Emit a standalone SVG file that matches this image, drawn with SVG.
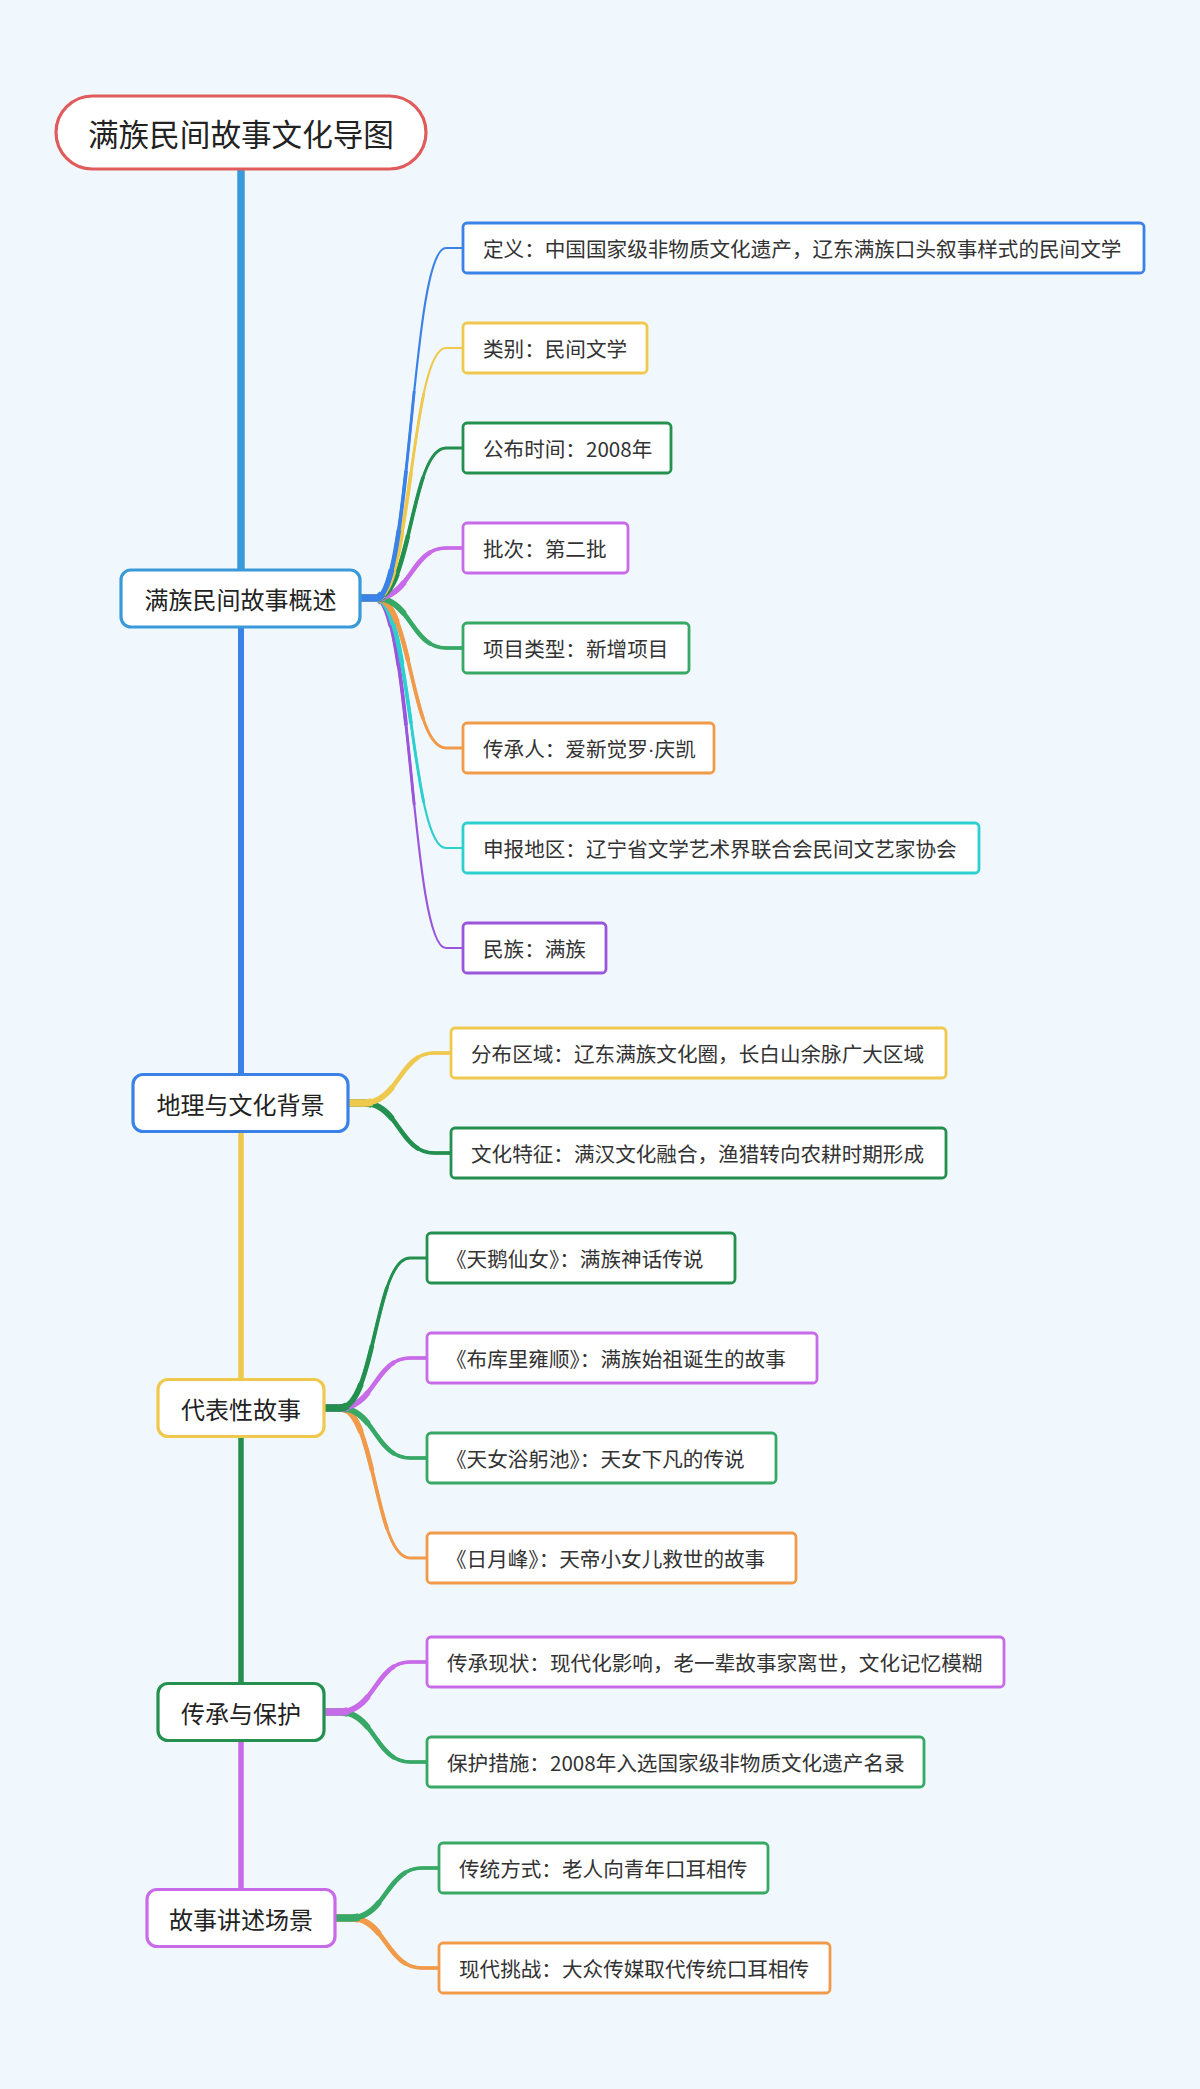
<svg xmlns="http://www.w3.org/2000/svg" xmlns:xlink="http://www.w3.org/1999/xlink" width="1200" height="2089" viewBox="0 0 1200 2089">
<style>
text{font-family:"Noto Sans CJK SC","Noto Sans",sans-serif;dominant-baseline:central}
.root rect{fill:#fff;stroke:#e05c5c;stroke-width:3.2}
.root text{font-size:30.6px;fill:#222;text-anchor:middle}
.topic rect{fill:#fff;stroke-width:3.2}
.topic text{font-size:24px;fill:#222;text-anchor:middle}
.leaf rect{fill:#fff;stroke-width:2.8}
.leaf text{font-size:20.6px;fill:#333}
#connectors{fill:none}
.trunk{stroke-linecap:butt}
.a{stroke-width:2.2;stroke-linecap:round}
.b{stroke-width:2.9;stroke-dasharray:230 3000}
.c{stroke-width:3.7;stroke-dasharray:150 3000}
.d{stroke-width:4.6;stroke-dasharray:90 3000}
.e{stroke-width:5.8;stroke-dasharray:50 3000}
.f{stroke-width:7.6;stroke-dasharray:24 3000}
.blue{stroke:#3b82e6}.yellow{stroke:#efc84e}.dgreen{stroke:#24904f}.lpurple{stroke:#c86be8}
.mgreen{stroke:#37a865}.orange{stroke:#f09a4a}.cyan{stroke:#2ecfcf}.dpurple{stroke:#9a55dc}.sky{stroke:#3a9ad9}
</style>
<defs>
<path id="p1a" d="M360 598 L376 598 C411 598 411 248 446 248 L463 248"/>
<path id="p1b" d="M360 598 L376 598 C411 598 411 348 446 348 L463 348"/>
<path id="p1c" d="M360 598 L376 598 C411 598 411 448 446 448 L463 448"/>
<path id="p1d" d="M360 598 L376 598 C411 598 411 548 446 548 L463 548"/>
<path id="p1e" d="M360 598 L376 598 C411 598 411 648 446 648 L463 648"/>
<path id="p1f" d="M360 598 L376 598 C411 598 411 748 446 748 L463 748"/>
<path id="p1g" d="M360 598 L376 598 C411 598 411 848 446 848 L463 848"/>
<path id="p1h" d="M360 598 L376 598 C411 598 411 948 446 948 L463 948"/>
<path id="p2a" d="M348 1103 L364 1103 C399 1103 399 1053 434 1053 L451 1053"/>
<path id="p2b" d="M348 1103 L364 1103 C399 1103 399 1153 434 1153 L451 1153"/>
<path id="p3a" d="M324 1408 L340 1408 C375 1408 375 1258 410 1258 L427 1258"/>
<path id="p3b" d="M324 1408 L340 1408 C375 1408 375 1358 410 1358 L427 1358"/>
<path id="p3c" d="M324 1408 L340 1408 C375 1408 375 1458 410 1458 L427 1458"/>
<path id="p3d" d="M324 1408 L340 1408 C375 1408 375 1558 410 1558 L427 1558"/>
<path id="p4a" d="M324 1712 L340 1712 C375 1712 375 1662 410 1662 L427 1662"/>
<path id="p4b" d="M324 1712 L340 1712 C375 1712 375 1762 410 1762 L427 1762"/>
<path id="p5a" d="M335 1918 L351 1918 C386 1918 386 1868 422 1868 L439 1868"/>
<path id="p5b" d="M335 1918 L351 1918 C386 1918 386 1968 422 1968 L439 1968"/>
</defs>
<rect width="1200" height="2089" fill="#f1f8fd"/>
<g id="connectors">
<path class="trunk sky" stroke-width="7.5" d="M241 168 V571"/>
<path class="trunk blue" stroke-width="6" d="M241 626 V1075"/>
<path class="trunk yellow" stroke-width="5.5" d="M241 1130 V1380"/>
<path class="trunk dgreen" stroke-width="5.5" d="M241 1436 V1684"/>
<path class="trunk lpurple" stroke-width="5.5" d="M241 1740 V1890"/>
<g class="dpurple"><use href="#p1h" class="a"/><use href="#p1h" class="b"/><use href="#p1h" class="c"/><use href="#p1h" class="d"/><use href="#p1h" class="e"/><use href="#p1h" class="f"/></g>
<g class="cyan"><use href="#p1g" class="a"/><use href="#p1g" class="b"/><use href="#p1g" class="c"/><use href="#p1g" class="d"/><use href="#p1g" class="e"/><use href="#p1g" class="f"/></g>
<g class="orange"><use href="#p1f" class="a"/><use href="#p1f" class="b"/><use href="#p1f" class="c"/><use href="#p1f" class="d"/><use href="#p1f" class="e"/><use href="#p1f" class="f"/></g>
<g class="mgreen"><use href="#p1e" class="a"/><use href="#p1e" class="b"/><use href="#p1e" class="c"/><use href="#p1e" class="d"/><use href="#p1e" class="e"/><use href="#p1e" class="f"/></g>
<g class="lpurple"><use href="#p1d" class="a"/><use href="#p1d" class="b"/><use href="#p1d" class="c"/><use href="#p1d" class="d"/><use href="#p1d" class="e"/><use href="#p1d" class="f"/></g>
<g class="dgreen"><use href="#p1c" class="a"/><use href="#p1c" class="b"/><use href="#p1c" class="c"/><use href="#p1c" class="d"/><use href="#p1c" class="e"/><use href="#p1c" class="f"/></g>
<g class="yellow"><use href="#p1b" class="a"/><use href="#p1b" class="b"/><use href="#p1b" class="c"/><use href="#p1b" class="d"/><use href="#p1b" class="e"/><use href="#p1b" class="f"/></g>
<g class="blue"><use href="#p1a" class="a"/><use href="#p1a" class="b"/><use href="#p1a" class="c"/><use href="#p1a" class="d"/><use href="#p1a" class="e"/><use href="#p1a" class="f"/></g>
<g class="dgreen"><use href="#p2b" class="a"/><use href="#p2b" class="b"/><use href="#p2b" class="c"/><use href="#p2b" class="d"/><use href="#p2b" class="e"/><use href="#p2b" class="f"/></g>
<g class="yellow"><use href="#p2a" class="a"/><use href="#p2a" class="b"/><use href="#p2a" class="c"/><use href="#p2a" class="d"/><use href="#p2a" class="e"/><use href="#p2a" class="f"/></g>
<g class="orange"><use href="#p3d" class="a"/><use href="#p3d" class="b"/><use href="#p3d" class="c"/><use href="#p3d" class="d"/><use href="#p3d" class="e"/><use href="#p3d" class="f"/></g>
<g class="mgreen"><use href="#p3c" class="a"/><use href="#p3c" class="b"/><use href="#p3c" class="c"/><use href="#p3c" class="d"/><use href="#p3c" class="e"/><use href="#p3c" class="f"/></g>
<g class="lpurple"><use href="#p3b" class="a"/><use href="#p3b" class="b"/><use href="#p3b" class="c"/><use href="#p3b" class="d"/><use href="#p3b" class="e"/><use href="#p3b" class="f"/></g>
<g class="dgreen"><use href="#p3a" class="a"/><use href="#p3a" class="b"/><use href="#p3a" class="c"/><use href="#p3a" class="d"/><use href="#p3a" class="e"/><use href="#p3a" class="f"/></g>
<g class="mgreen"><use href="#p4b" class="a"/><use href="#p4b" class="b"/><use href="#p4b" class="c"/><use href="#p4b" class="d"/><use href="#p4b" class="e"/><use href="#p4b" class="f"/></g>
<g class="lpurple"><use href="#p4a" class="a"/><use href="#p4a" class="b"/><use href="#p4a" class="c"/><use href="#p4a" class="d"/><use href="#p4a" class="e"/><use href="#p4a" class="f"/></g>
<g class="orange"><use href="#p5b" class="a"/><use href="#p5b" class="b"/><use href="#p5b" class="c"/><use href="#p5b" class="d"/><use href="#p5b" class="e"/><use href="#p5b" class="f"/></g>
<g class="mgreen"><use href="#p5a" class="a"/><use href="#p5a" class="b"/><use href="#p5a" class="c"/><use href="#p5a" class="d"/><use href="#p5a" class="e"/><use href="#p5a" class="f"/></g>
</g>
<g id="root" class="root"><rect x="56" y="96" width="370" height="73" rx="36.5"/><text x="241" y="132.5">满族民间故事文化导图</text></g>
<g id="t1" class="topic"><rect class="sky" x="121" y="570" width="239" height="57" rx="10"/><text x="240.5" y="598.5">满族民间故事概述</text></g>
<g id="t2" class="topic"><rect class="blue" x="133" y="1074.5" width="215" height="57" rx="10"/><text x="240.5" y="1103">地理与文化背景</text></g>
<g id="t3" class="topic"><rect class="yellow" x="158" y="1379.5" width="166" height="57" rx="10"/><text x="241" y="1408">代表性故事</text></g>
<g id="t4" class="topic"><rect class="dgreen" x="158" y="1683.5" width="166" height="57" rx="10"/><text x="241" y="1712">传承与保护</text></g>
<g id="t5" class="topic"><rect class="lpurple" x="147" y="1889.5" width="188" height="57" rx="10"/><text x="241" y="1918">故事讲述场景</text></g>
<g id="l1a" class="leaf"><rect class="blue" x="463" y="223" width="681" height="50" rx="4"/><text x="483" y="248">定义：中国国家级非物质文化遗产，辽东满族口头叙事样式的民间文学</text></g>
<g id="l1b" class="leaf"><rect class="yellow" x="463" y="323" width="184" height="50" rx="4"/><text x="483" y="348">类别：民间文学</text></g>
<g id="l1c" class="leaf"><rect class="dgreen" x="463" y="423" width="208" height="50" rx="4"/><text x="483" y="448">公布时间：2008年</text></g>
<g id="l1d" class="leaf"><rect class="lpurple" x="463" y="523" width="165" height="50" rx="4"/><text x="483" y="548">批次：第二批</text></g>
<g id="l1e" class="leaf"><rect class="mgreen" x="463" y="623" width="226" height="50" rx="4"/><text x="483" y="648">项目类型：新增项目</text></g>
<g id="l1f" class="leaf"><rect class="orange" x="463" y="723" width="251" height="50" rx="4"/><text x="483" y="748">传承人：爱新觉罗<tspan font-family="Liberation Sans, sans-serif">·</tspan>庆凯</text></g>
<g id="l1g" class="leaf"><rect class="cyan" x="463" y="823" width="516" height="50" rx="4"/><text x="483" y="848">申报地区：辽宁省文学艺术界联合会民间文艺家协会</text></g>
<g id="l1h" class="leaf"><rect class="dpurple" x="463" y="923" width="143" height="50" rx="4"/><text x="483" y="948">民族：满族</text></g>
<g id="l2a" class="leaf"><rect class="yellow" x="451" y="1028" width="495" height="50" rx="4"/><text x="471" y="1053">分布区域：辽东满族文化圈，长白山余脉广大区域</text></g>
<g id="l2b" class="leaf"><rect class="dgreen" x="451" y="1128" width="495" height="50" rx="4"/><text x="471" y="1153">文化特征：满汉文化融合，渔猎转向农耕时期形成</text></g>
<g id="l3a" class="leaf"><rect class="dgreen" x="427" y="1233" width="308" height="50" rx="4"/><text x="446" y="1258">《天鹅仙女》：满族神话传说</text></g>
<g id="l3b" class="leaf"><rect class="lpurple" x="427" y="1333" width="390" height="50" rx="4"/><text x="446" y="1358">《布库里雍顺》：满族始祖诞生的故事</text></g>
<g id="l3c" class="leaf"><rect class="mgreen" x="427" y="1433" width="349" height="50" rx="4"/><text x="446" y="1458">《天女浴躬池》：天女下凡的传说</text></g>
<g id="l3d" class="leaf"><rect class="orange" x="427" y="1533" width="369" height="50" rx="4"/><text x="446" y="1558">《日月峰》：天帝小女儿救世的故事</text></g>
<g id="l4a" class="leaf"><rect class="lpurple" x="427" y="1637" width="577" height="50" rx="4"/><text x="447" y="1662">传承现状：现代化影响，老一辈故事家离世，文化记忆模糊</text></g>
<g id="l4b" class="leaf"><rect class="mgreen" x="427" y="1737" width="497" height="50" rx="4"/><text x="447" y="1762">保护措施：2008年入选国家级非物质文化遗产名录</text></g>
<g id="l5a" class="leaf"><rect class="mgreen" x="439" y="1843" width="329" height="50" rx="4"/><text x="459" y="1868">传统方式：老人向青年口耳相传</text></g>
<g id="l5b" class="leaf"><rect class="orange" x="439" y="1943" width="391" height="50" rx="4"/><text x="459" y="1968">现代挑战：大众传媒取代传统口耳相传</text></g>
</svg>
